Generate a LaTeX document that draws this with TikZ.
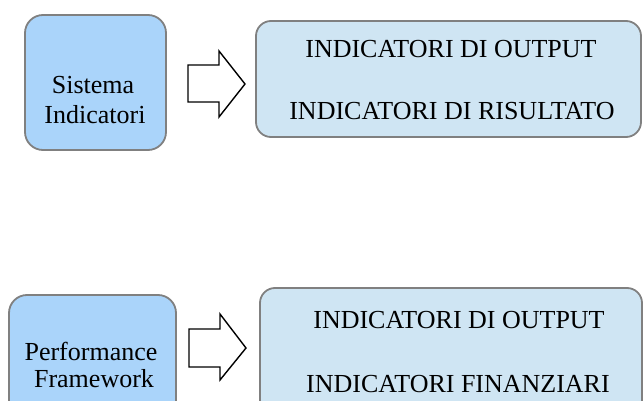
\documentclass[tikz,border=0pt]{standalone}
\usepackage{fontspec}
\setmainfont{Liberation Serif}
\definecolor{leftfill}{RGB}{170,212,250}
\definecolor{rightfill}{RGB}{207,229,243}
\definecolor{edgegray}{RGB}{128,128,128}
\begin{document}
\begin{tikzpicture}[x=1pt,y=1pt,
  srcbox/.style={draw=edgegray, line width=1.8pt, fill=leftfill, rounded corners=18pt, inner sep=0pt},
  dstbox/.style={draw=edgegray, line width=1.8pt, fill=rightfill, rounded corners=15pt, inner sep=0pt},
  lbl/.style={font=\fontsize{26}{29}\selectfont, inner sep=0pt, anchor=base},
  blockarrow/.style={draw=black, line width=1.4pt, fill=white, line join=miter}]
\useasboundingbox (0,0) rectangle (643,400);
\clip (0,0) rectangle (643,400);
% top row
\node[srcbox, minimum width=141pt, minimum height=135pt] (s1) at (95.5,317.5) {};
\node[lbl] (s1a) at (93,307) {Sistema};
\node[lbl] (s1b) at (95,277) {Indicatori};
\node[dstbox, minimum width=385pt, minimum height=116pt] (d1) at (448.5,321) {};
\node[lbl] (d1a) at (451,342) {INDICATORI DI OUTPUT};
\node[lbl] (d1b) at (452,280) {INDICATORI DI RISULTATO};
\draw[blockarrow] (188,335) -- (219,335) -- (219,349) -- (245,316) -- (219,283) -- (219,298) -- (188,298) -- cycle;
% bottom row
\node[srcbox, minimum width=167pt, minimum height=140pt] (s2) at (92.5,35) {};
\node[lbl] (s2a) at (91,40) {Performance};
\node[lbl] (s2b) at (94,13) {Framework};
\node[dstbox, minimum width=382pt, minimum height=140pt] (d2) at (451,42) {};
\node[lbl] (d2a) at (459,72) {INDICATORI DI OUTPUT};
\node[lbl] (d2b) at (458,8) {INDICATORI FINANZIARI};
\draw[blockarrow] (189,71) -- (220,71) -- (220,86) -- (246,52) -- (220,20) -- (220,33) -- (189,33) -- cycle;
\end{tikzpicture}
\end{document}
